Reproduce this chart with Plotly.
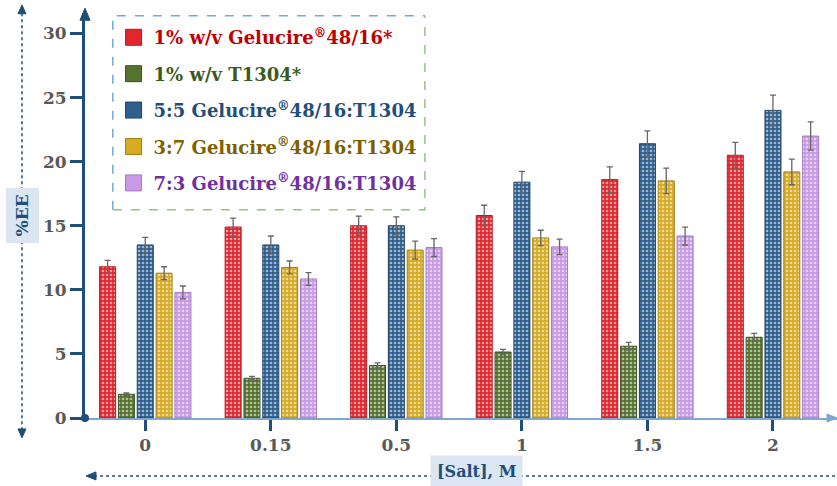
import plotly.graph_objects as go

categories = ["0", "0.15", "0.5", "1", "1.5", "2"]

series_names = [
    "1% w/v Gelucire<sup>®</sup>48/16*",
    "1% w/v T1304*",
    "5:5 Gelucire<sup>®</sup>48/16:T1304",
    "3:7 Gelucire<sup>®</sup>48/16:T1304",
    "7:3 Gelucire<sup>®</sup>48/16:T1304",
]

gel_1pct = [11.8, 14.9, 15.0, 15.8, 18.6, 20.5]
t1304_1pct = [1.85, 3.1, 4.1, 5.15, 5.6, 6.3]
ratio_55 = [13.5, 13.5, 15.0, 18.4, 21.4, 24.0]
ratio_37 = [11.3, 11.75, 13.1, 14.05, 18.5, 19.2]
ratio_73 = [9.8, 10.85, 13.3, 13.35, 14.2, 22.0]

gel_1pct_err = [0.5, 0.7, 0.75, 0.8, 1.0, 1.0]
t1304_1pct_err = [0.1, 0.15, 0.2, 0.2, 0.3, 0.3]
ratio_55_err = [0.6, 0.7, 0.7, 0.85, 1.0, 1.2]
ratio_37_err = [0.5, 0.5, 0.7, 0.6, 1.0, 1.0]
ratio_73_err = [0.5, 0.5, 0.7, 0.6, 0.7, 1.1]

y_ticks = [0, 5, 10, 15, 20, 25, 30]

values = [gel_1pct, t1304_1pct, ratio_55, ratio_37, ratio_73]
errors = [gel_1pct_err, t1304_1pct_err, ratio_55_err, ratio_37_err, ratio_73_err]

fill_colors = ["#E3262E", "#56722F", "#2E5F8F", "#D8AB24", "#C89AE6"]
edge_colors = ["#B01C22", "#3B5220", "#1F4266", "#A07E15", "#A27BBF"]
text_colors = ["#C00000", "#3A5A1E", "#1F4E79", "#7F6000", "#7030A0"]

FONT = "DejaVu Serif"
DARK_BLUE = "#1F4E79"
LIGHT_AXIS = "#7FA7CF"

fig = go.Figure()

for i in range(5):
    fig.add_trace(go.Bar(
        x=categories, y=values[i],
        marker=dict(
            color=fill_colors[i],
            line=dict(color=edge_colors[i], width=1),
            pattern=dict(shape=".", fgcolor="white", fgopacity=0.55, size=4, solidity=0.35),
        ),
        error_y=dict(type="data", array=errors[i], color="#666666", thickness=1.3, width=3),
        showlegend=False,
    ))

for i in range(5):
    fig.add_trace(go.Scatter(
        x=[None], y=[None], mode="markers",
        marker=dict(symbol="square", size=18, color=fill_colors[i],
                    line=dict(color=edge_colors[i], width=1)),
        name=f'<span style="color:{text_colors[i]}"><b>{series_names[i]}</b></span>',
        legendgroup=f"g{i}",
    ))

fig.update_layout(
    width=837, height=486,
    margin=dict(l=85, r=0, t=13, b=68),
    plot_bgcolor="white", paper_bgcolor="white",
    barmode="group", bargap=0.25, bargroupgap=0.15,
    font=dict(family=FONT, size=16, color="#595959"),
    showlegend=True,
    legend=dict(
        x=0.038, y=0.985, xanchor="left", yanchor="top",
        bgcolor="rgba(0,0,0,0)", borderwidth=0,
        font=dict(family=FONT, size=18),
        tracegroupgap=10, itemsizing="trace",
    ),
    xaxis=dict(
        type="category", range=[-0.48, 5.51],
        tickvals=categories, ticktext=[f"<b>{c}</b>" for c in categories],
        showline=True, linecolor=LIGHT_AXIS, linewidth=2,
        ticks="outside", ticklen=11, tickwidth=3, tickcolor=DARK_BLUE,
        tickfont=dict(family=FONT, size=17, color="#595959"),
        showgrid=False, zeroline=False,
    ),
    yaxis=dict(
        range=[0, 31.6], tickvals=y_ticks, ticktext=[f"<b>{t}</b>" for t in y_ticks],
        showline=True, linecolor=DARK_BLUE, linewidth=3,
        ticks="outside", ticklen=12, tickwidth=3, tickcolor=DARK_BLUE,
        tickfont=dict(family=FONT, size=17, color="#595959"),
        showgrid=False, zeroline=False,
    ),
)

# legend dashed frame
fig.add_shape(type="path", xref="paper", yref="paper",
              path="M 0.037 0.514 L 0.037 0.993 L 0.452 0.993",
              line=dict(color="#6FA8DC", width=1.5, dash="dash"))
fig.add_shape(type="path", xref="paper", yref="paper",
              path="M 0.037 0.514 L 0.452 0.514 L 0.452 0.993",
              line=dict(color="#93C47D", width=1.5, dash="dash"))

# origin dot
fig.add_shape(type="circle", xref="paper", yref="paper", xsizemode="pixel", ysizemode="pixel",
              xanchor=0, yanchor=0, x0=-4, x1=4, y0=-4, y1=4,
              fillcolor=DARK_BLUE, line=dict(color=DARK_BLUE, width=0))

# axis arrowheads (triangles)
fig.add_shape(type="path", xref="paper", yref="paper",
              path="M 0 1.012 L -0.0067 0.982 L 0.0067 0.982 Z",
              fillcolor=DARK_BLUE, line=dict(color=DARK_BLUE, width=1))
fig.add_shape(type="path", xref="paper", yref="paper",
              path="M 1.0 0 L 0.9867 0.0099 L 0.9867 -0.0099 Z",
              fillcolor=LIGHT_AXIS, line=dict(color=LIGHT_AXIS, width=1))

# y title with dashed double arrow
YT_X = -0.0838
fig.add_shape(type="line", xref="paper", yref="paper", x0=YT_X, x1=YT_X, y0=-0.03, y1=1.0,
              line=dict(color=DARK_BLUE, width=1.5, dash="dot"))
fig.add_shape(type="path", xref="paper", yref="paper",
              path=f"M {YT_X} 1.02 L {YT_X-0.0053} 0.998 L {YT_X+0.0053} 0.998 Z",
              fillcolor=DARK_BLUE, line=dict(color=DARK_BLUE, width=1))
fig.add_shape(type="path", xref="paper", yref="paper",
              path=f"M {YT_X} -0.049 L {YT_X-0.0053} -0.027 L {YT_X+0.0053} -0.027 Z",
              fillcolor=DARK_BLUE, line=dict(color=DARK_BLUE, width=1))
fig.add_annotation(xref="paper", yref="paper", x=YT_X, y=0.50, xanchor="center", yanchor="middle",
                   text="<b>%EE</b>", textangle=-90, showarrow=False, bgcolor="#DCE6F2", borderpad=6,
                   font=dict(family=FONT, size=17, color=DARK_BLUE))

# x title with dashed arrow
XT_Y = -0.143
fig.add_shape(type="line", xref="paper", yref="paper", x0=0.012, x1=1.0, y0=XT_Y, y1=XT_Y,
              line=dict(color=DARK_BLUE, width=1.5, dash="dot"))
fig.add_shape(type="path", xref="paper", yref="paper",
              path=f"M 0.0013 {XT_Y} L 0.0146 {XT_Y+0.0099} L 0.0146 {XT_Y-0.0099} Z",
              fillcolor=DARK_BLUE, line=dict(color=DARK_BLUE, width=1))
fig.add_annotation(xref="paper", yref="paper", x=0.521, y=XT_Y + 0.01, xanchor="center", yanchor="middle",
                   text="<b>[Salt], M</b>", showarrow=False, bgcolor="#DCE6F2", borderpad=6,
                   font=dict(family=FONT, size=16, color=DARK_BLUE))

fig.write_html("out.html")
